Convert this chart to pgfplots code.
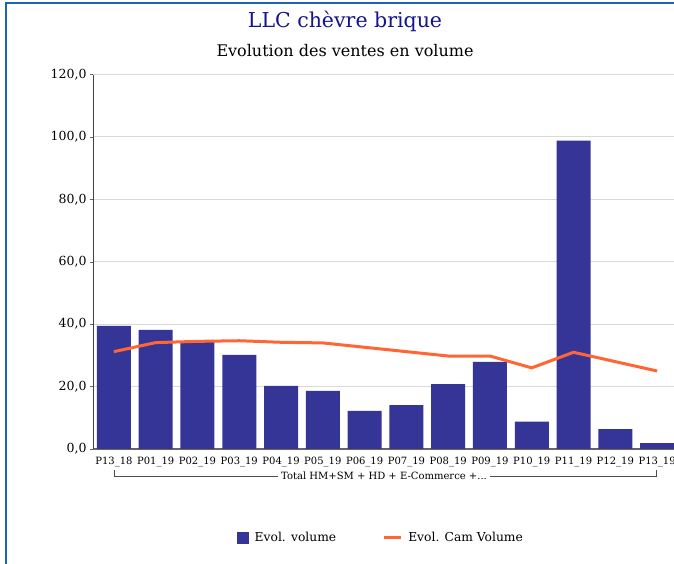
\documentclass[border=0pt]{standalone}
\usepackage{pgfplots}
\pgfplotsset{compat=1.18}
\usepackage{fontspec}
\setmainfont{DejaVu Serif}
\definecolor{barblue}{RGB}{53,53,151}
\definecolor{lineorange}{RGB}{255,102,51}
\definecolor{frameblue}{RGB}{30,100,180}
\definecolor{titleblue}{RGB}{20,20,140}
\begin{document}
\begin{tikzpicture}
\useasboundingbox (0pt,0pt) rectangle (674pt,564pt);
\begin{scope}
\clip (0pt,0pt) rectangle (674pt,564pt);
\fill[white] (0pt,0pt) rectangle (674pt,564pt);
\draw[frameblue, line width=2pt] (5.8pt,0pt) -- (5.8pt,560.5pt) -- (674pt,560.5pt);
\node[titleblue, font=\fontsize{20.5}{24}\selectfont] at (345pt,543pt) {LLC chèvre brique};
\node[font=\fontsize{16}{19}\selectfont] at (345pt,513pt) {Evolution des ventes en volume};
\begin{axis}[
  at={(93pt,115pt)}, anchor=south west, scale only axis,
  width=585pt, height=374.4pt,
  xmin=-0.5, xmax=13.5, ymin=0, ymax=120,
  axis x line*=bottom, axis y line*=left,
  x axis line style={draw=black!60, line width=1.2pt, -},
  y axis line style={draw=black!75, line width=1pt, -},
  ytick={0,20,...,120},
  ymajorgrids, grid style={draw=black!15, line width=1pt},
  tick align=outside, major tick length=3pt,
  ytick style={draw=black!60},
  xtick={0,...,13}, xtick style={draw=none},
  xticklabels={P13\_18,P01\_19,P02\_19,P03\_19,P04\_19,P05\_19,P06\_19,P07\_19,P08\_19,P09\_19,P10\_19,P11\_19,P12\_19,P13\_19},
  xticklabel style={font=\fontsize{10}{12}\selectfont, inner sep=1pt, yshift=-4pt},
  yticklabel style={font=\fontsize{12.5}{15}\selectfont},
  /pgf/number format/.cd, fixed, fixed zerofill, precision=1, use comma, assume math mode=true,
  /pgfplots/.cd,
  legend columns=2,
  legend style={at={(0.492,-0.2377)}, anchor=center, draw=none, fill=none,
    font=\fontsize{12.3}{15}\selectfont,
    /tikz/every odd column/.append style={column sep=4pt},
    /tikz/every even column/.append style={column sep=44pt}},
]
\addplot[ybar, bar width=34pt, fill=barblue, draw=none,
  legend image code/.code={\fill[barblue] (0pt,-6pt) rectangle (12pt,6pt);}]
  coordinates {(0,39.5) (1,38.2) (2,34.4) (3,30.2) (4,20.2) (5,18.6) (6,12.2) (7,14.1) (8,20.8) (9,27.9) (10,8.8) (11,98.8) (12,6.4) (13,1.9)};
\addlegendentry{Evol. volume}
\addplot[lineorange, line width=3pt, no markers, line join=round,
  legend image code/.code={\draw[lineorange, line width=3pt] (0pt,0pt) -- (17pt,0pt);}]
  coordinates {(0,31.2) (1,34.1) (2,34.5) (3,34.7) (4,34.2) (5,34.0) (6,32.6) (7,31.2) (8,29.8) (9,29.8) (10,26.0) (11,31.0) (12,28.0) (13,25.0)};
\addlegendentry{Evol. Cam Volume}
\end{axis}
\draw[black!70, line width=0.8pt] (114pt,94pt) -- (114pt,88pt) -- (656pt,88pt) -- (656pt,94pt);
\node[fill=white, inner sep=3pt, font=\fontsize{10}{12}\selectfont] at (384pt,88.5pt) {Total HM+SM + HD + E-Commerce +...};
\end{scope}
\end{tikzpicture}
\end{document}
